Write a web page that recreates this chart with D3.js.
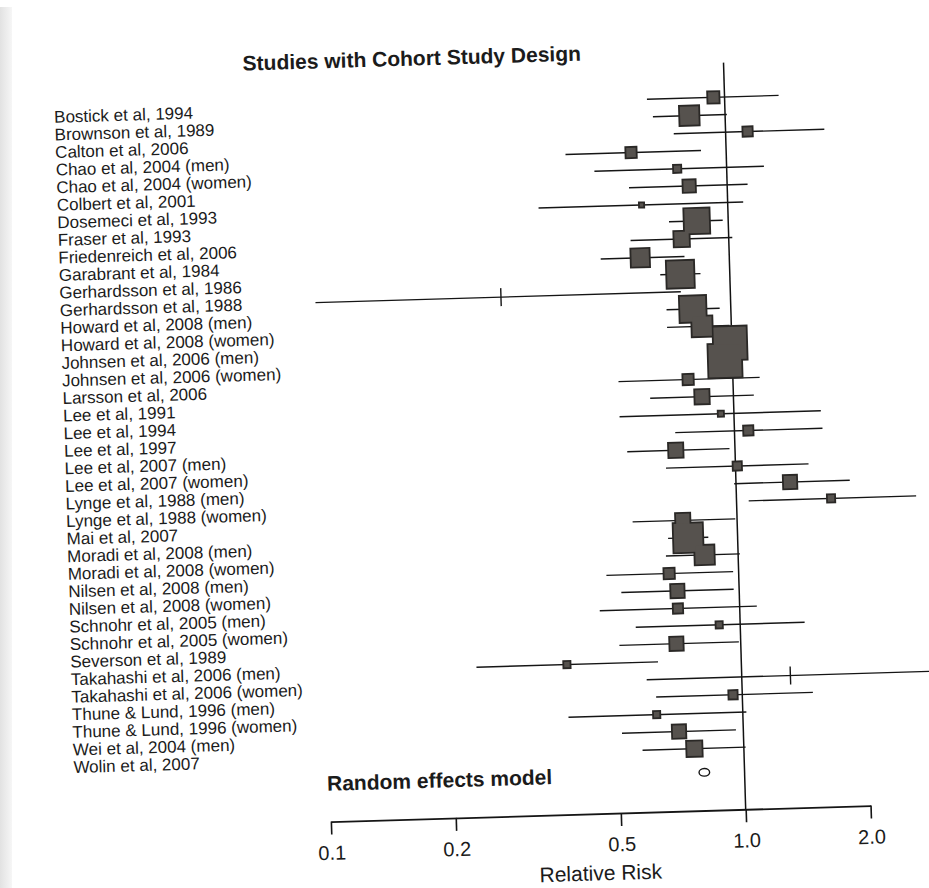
<!DOCTYPE html>
<html>
<head>
<meta charset="utf-8">
<script src="https://cdn.jsdelivr.net/npm/d3@7"></script>
<style>
  html, body { margin: 0; padding: 0; background: #fff; }
  svg { display: block; }
  text { font-family: "Liberation Sans", Arial, Helvetica, sans-serif; fill: #1b1b1b; }
</style>
</head>
<body>
<div id="chart"></div>
<script>
// ---------------- data ----------------
const title = "Studies with Cohort Study Design";
const studies = [
  "Bostick et al, 1994", "Brownson et al, 1989", "Calton et al, 2006",
  "Chao et al, 2004 (men)", "Chao et al, 2004 (women)", "Colbert et al, 2001",
  "Dosemeci et al, 1993", "Fraser et al, 1993", "Friedenreich et al, 2006",
  "Garabrant et al, 1984", "Gerhardsson et al, 1986", "Gerhardsson et al, 1988",
  "Howard et al, 2008 (men)", "Howard et al, 2008 (women)", "Johnsen et al, 2006 (men)",
  "Johnsen et al, 2006 (women)", "Larsson et al, 2006", "Lee et al, 1991",
  "Lee et al, 1994", "Lee et al, 1997", "Lee et al, 2007 (men)",
  "Lee et al, 2007 (women)", "Lynge et al, 1988 (men)", "Lynge et al, 1988 (women)",
  "Mai et al, 2007", "Moradi et al, 2008 (men)", "Moradi et al, 2008 (women)",
  "Nilsen et al, 2008 (men)", "Nilsen et al, 2008 (women)", "Schnohr et al, 2005 (men)",
  "Schnohr et al, 2005 (women)", "Severson et al, 1989", "Takahashi et al, 2006 (men)",
  "Takahashi et al, 2006 (women)", "Thune & Lund, 1996 (men)", "Thune & Lund, 1996 (women)",
  "Wei et al, 2004 (men)", "Wolin et al, 2007"
];
const rr = [0.94, 0.82, 1.13, 0.59, 0.76, 0.81, 0.62, 0.84, 0.77, 0.61, 0.76, 0.28,
            0.81, 0.85, 0.99, 0.96, 0.78, 0.84, 0.93, 1.08, 0.72, 1.01, 1.35, 1.69,
            0.74, 0.76, 0.83, 0.68, 0.71, 0.71, 0.89, 0.70, 0.38, 1.31, 0.95, 0.62,
            0.70, 0.76];
const lower = [0.65, 0.67, 0.75, 0.41, 0.48, 0.58, 0.35, 0.72, 0.58, 0.49, 0.68, 0.10,
               0.70, 0.70, 0.93, 0.91, 0.53, 0.63, 0.53, 0.72, 0.55, 0.68, 0.99, 1.07,
               0.56, 0.68, 0.67, 0.48, 0.52, 0.46, 0.56, 0.51, 0.23, 0.59, 0.62, 0.38,
               0.51, 0.57];
const upper = [1.35, 1.01, 1.73, 0.87, 1.23, 1.12, 1.09, 0.97, 1.02, 0.78, 0.85, 0.76,
               0.94, 0.99, 1.04, 1.02, 1.16, 1.12, 1.62, 1.63, 0.97, 1.50, 1.88, 2.71,
               0.99, 0.85, 1.01, 0.97, 0.97, 1.10, 1.43, 0.99, 0.63, 3.20, 1.48, 1.02,
               0.96, 1.01];
const weights = [1.38, 3.83, 0.96, 1.16, 0.61, 1.62, 0.24, 6.47, 2.45, 3.45, 7.50, 0.01,
                 6.98, 4.22, 11.06, 11.06, 1.16, 2.15, 0.34, 0.96, 2.15, 0.78, 1.88, 0.61,
                 2.15, 8.61, 3.83, 1.16, 1.88, 0.96, 0.47, 1.88, 0.47, 0.01, 0.78, 0.47,
                 1.88, 2.45];
const summaryLabel = "Random effects model";
const summaryRR = 0.80;
const tickValues = [0.1, 0.2, 0.5, 1.0, 2.0];
const xLabel = "Relative Risk";

// ---------------- layout ----------------
const W = 929, H = 888;
const pivot = [745.7, 809.3];   // scanned page is tilted around the 1.0 tick
const tilt = -1.7;

const svg = d3.select("#chart").append("svg")
  .attr("width", W).attr("height", H);

// page edge shadow of the scan
const defs = svg.append("defs");
const grad = defs.append("linearGradient").attr("id", "edge");
grad.append("stop").attr("offset", "0%").attr("stop-color", "#e2e2e2");
grad.append("stop").attr("offset", "100%").attr("stop-color", "#f6f6f6");
svg.append("rect").attr("x", 0).attr("y", 7).attr("width", 12).attr("height", H - 7)
  .attr("fill", "url(#edge)");

const g = svg.append("g")
  .attr("transform", `rotate(${tilt},${pivot[0]},${pivot[1]})`);

const x = d3.scaleLog().domain([0.1, 2.0]).range([330.7, 870.6]);
const y = d3.scalePoint().domain(studies).range([96.7, 747.2]);
const rowStep = y.step();
const ySummary = y(studies[studies.length - 1]) + 1.36 * rowStep;
const axisY = pivot[1];
const side = d3.scaleSqrt().domain([0, d3.max(weights)]).range([0, 34]);

const rows = studies.map((s, i) => ({
  study: s, rr: rr[i], lo: lower[i], hi: upper[i], w: weights[i]
}));

// title
g.append("text").attr("x", 265).attr("y", 56)
  .attr("font-size", 21).attr("font-weight", "bold").text(title);

// study labels
g.append("g").selectAll("text").data(rows).join("text")
  .attr("x", 75).attr("y", d => y(d.study)).attr("dy", "0.35em")
  .attr("font-size", 17).text(d => d.study);

// reference line at 1.0
g.append("line")
  .attr("x1", x(1)).attr("x2", x(1))
  .attr("y1", 62.3).attr("y2", axisY)
  .attr("stroke", "#111").attr("stroke-width", 1.5);

// confidence intervals
g.append("g").selectAll("line").data(rows).join("line")
  .attr("x1", d => x(d.lo)).attr("x2", d => x(d.hi))
  .attr("y1", d => y(d.study)).attr("y2", d => y(d.study))
  .attr("stroke", "#151515").attr("stroke-width", 1.4);

// zero-weight studies: vertical tick
const tiny = rows.filter(d => side(d.w) < 3);
g.append("g").selectAll("line").data(tiny).join("line")
  .attr("x1", d => x(d.rr)).attr("x2", d => x(d.rr))
  .attr("y1", d => y(d.study) - 9).attr("y2", d => y(d.study) + 9)
  .attr("stroke", "#151515").attr("stroke-width", 1.4);

// weighted squares: outline layer then fill layer (merged outline)
const boxes = rows.filter(d => side(d.w) >= 3);
g.append("g").selectAll("rect").data(boxes).join("rect")
  .attr("x", d => x(d.rr) - side(d.w) / 2)
  .attr("y", d => y(d.study) - side(d.w) / 2)
  .attr("width", d => side(d.w)).attr("height", d => side(d.w))
  .attr("fill", "#2a2826").attr("stroke", "#2a2826").attr("stroke-width", 2);
g.append("g").selectAll("rect").data(boxes).join("rect")
  .attr("x", d => x(d.rr) - side(d.w) / 2 + 0.8)
  .attr("y", d => y(d.study) - side(d.w) / 2 + 0.8)
  .attr("width", d => Math.max(0, side(d.w) - 1.6))
  .attr("height", d => Math.max(0, side(d.w) - 1.6))
  .attr("fill", "#56524e");

// summary
g.append("text").attr("x", 328).attr("y", ySummary).attr("dy", "0.35em")
  .attr("font-size", 21).attr("font-weight", "bold").text(summaryLabel);
g.append("ellipse")
  .attr("cx", x(summaryRR)).attr("cy", ySummary)
  .attr("rx", 5.3).attr("ry", 3.8)
  .attr("fill", "none").attr("stroke", "#151515").attr("stroke-width", 1.4);

// axis
const axis = d3.axisBottom(x)
  .tickValues(tickValues)
  .tickFormat(d3.format(".1f"))
  .tickSize(13).tickSizeOuter(0).tickPadding(11);
const ax = g.append("g").attr("transform", `translate(0,${axisY})`).call(axis);
ax.select(".domain").attr("stroke", "#151515").attr("stroke-width", 1.8);
ax.selectAll(".tick line").attr("stroke", "#151515").attr("stroke-width", 1.6);
ax.selectAll(".tick text")
  .attr("font-size", 20).attr("fill", "#1b1b1b")
  .attr("font-family", "Liberation Sans, Arial, sans-serif");

g.append("text").attr("x", 599).attr("y", 876)
  .attr("text-anchor", "middle").attr("font-size", 21).text(xLabel);
</script>
</body>
</html>
